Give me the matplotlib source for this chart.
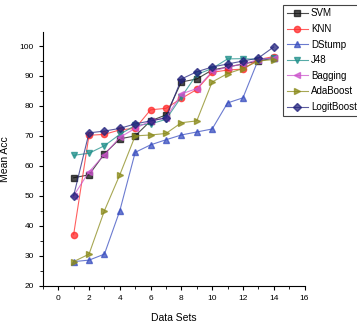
import matplotlib
matplotlib.use("Agg")
import matplotlib.pyplot as plt
from matplotlib.ticker import MultipleLocator

plt.rcParams['font.family'] = ['Liberation Sans', 'DejaVu Sans']

# Datos
datasets = list(range(1, 15))
svm = [56, 57, 64, 69, 70, 75, 77, 88, 89, 92, 93, 94, 95, 96]
knn = [37, 70.2, 70.5, 72, 72.5, 78.7, 79.2, 82.5, 85.5, 91.2, 92, 92.3, 95.5, 96.5]
dstump = [28, 28.5, 30.5, 45, 64.5, 67, 68.7, 70.3, 71.3, 72.3, 81, 82.7, 95.5, 96]
j48 = [63.5, 64.2, 66.7, 70.5, 73.5, 74, 75.5, 83, 90.5, 92.5, 95.7, 95.8, 95.5, 96]
bagging = [50, 58, 63.7, 69.5, 72.5, 75, 76, 84, 85.8, 91.5, 93, 94, 95.5, 96]
adaboost = [28, 30.5, 45, 57, 70, 70.3, 70.8, 74.4, 75, 88, 90.8, 92.5, 95, 95.5]
logitboost = [50, 71, 71.6, 72.5, 74, 75, 76, 89, 91.4, 93, 94, 95, 96, 99.7]

series = [
    ("SVM", svm, "#111111", "s"),
    ("KNN", knn, "#ff2a2a", "o"),
    ("DStump", dstump, "#3a4fc0", "^"),
    ("J48", j48, "#1f8f8a", "v"),
    ("Bagging", bagging, "#cc55cc", "<"),
    ("AdaBoost", adaboost, "#8a8a1a", ">"),
    ("LogitBoost", logitboost, "#24247e", "D"),
]

fig = plt.figure(figsize=(3.57, 3.26), dpi=100)
ax = fig.add_axes([0.12, 0.124, 0.733, 0.777])

for name, vals, col, mk in series:
    ax.plot(datasets, vals, color=col, linewidth=0.8, alpha=0.75,
            marker=mk, markersize=4.5 if mk != "D" else 4,
            markerfacecolor=col, markeredgecolor=col, label=name)

ax.set_xlim(-1, 16)
ax.set_ylim(20, 104.6)
ax.xaxis.set_major_locator(MultipleLocator(2))
ax.xaxis.set_minor_locator(MultipleLocator(1))
ax.yaxis.set_major_locator(MultipleLocator(10))
ax.yaxis.set_minor_locator(MultipleLocator(5))
ax.spines['top'].set_visible(False)
ax.spines['right'].set_visible(False)
ax.tick_params(which='major', direction='out', length=3, width=0.8, labelsize=6)
ax.tick_params(which='minor', direction='out', length=2, width=0.6)

ax.set_xlabel('Data Sets', fontsize=7.5)
ax.set_ylabel('Mean Acc', fontsize=7.5)
ax.xaxis.set_label_coords(0.5, -0.11)
ax.yaxis.set_label_coords(-0.125, 0.5)

leg = fig.legend(loc='upper left', bbox_to_anchor=(0.793, 0.985), fontsize=7,
                 fancybox=False, edgecolor='#444444', framealpha=1,
                 handlelength=2.2, handletextpad=0.3, borderpad=0.35,
                 labelspacing=0.58, borderaxespad=0)
leg.get_frame().set_linewidth(0.8)

fig.savefig('out.png', dpi=100)
